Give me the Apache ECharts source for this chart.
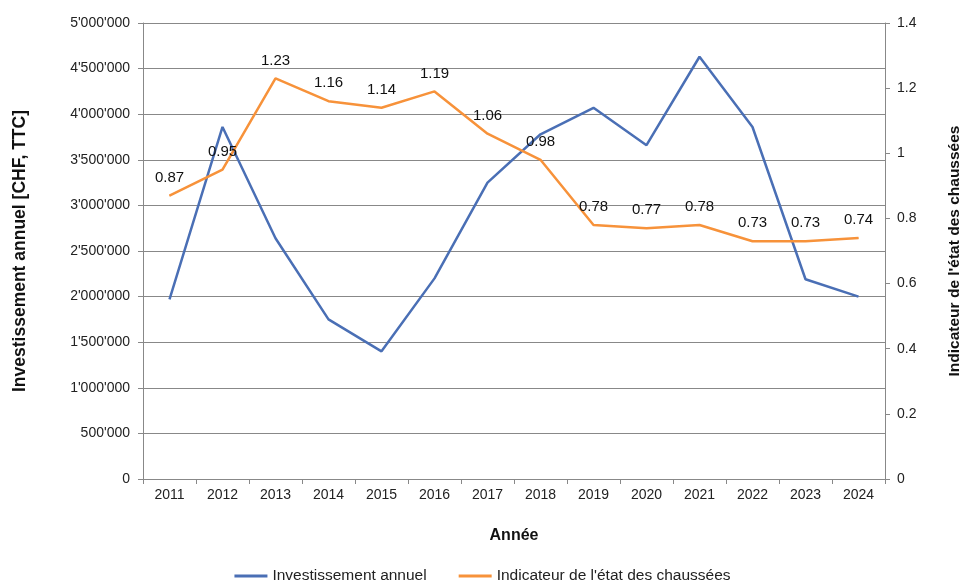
<!DOCTYPE html>
<html><head><meta charset="utf-8">
<script src="https://cdn.jsdelivr.net/npm/echarts@6/dist/echarts.min.js"></script>
<style>html,body{margin:0;padding:0;background:#fff}#c{width:965px;height:582px}</style>
</head><body><div id="c"></div>
<script>
const years = ['2011','2012','2013','2014','2015','2016','2017','2018','2019','2020','2021','2022','2023','2024'];
const investissement = [1970000,3860000,2640000,1750000,1400000,2200000,3250000,3780000,4070000,3660000,4630000,3860000,2190000,2000000];
const indicateur = [0.87,0.95,1.23,1.16,1.14,1.19,1.06,0.98,0.78,0.77,0.78,0.73,0.73,0.74];

function fmt(v){ return String(v).replace(/\B(?=(\d{3})+(?!\d))/g, "'"); }
const font = 'Liberation Sans, Arial, sans-serif';
const chart = echarts.init(document.getElementById('c'));
chart.setOption({
  animation:false,
  textStyle:{fontFamily:font},
  grid:{left:143,right:80,top:23,bottom:103,outerBoundsMode:'none',containLabel:false},
  legend:{top:563,left:'center',itemWidth:33,itemHeight:3,itemGap:32,icon:'rect',
    textStyle:{fontSize:15.5,color:'#222',fontFamily:font},
    data:['Investissement annuel','Indicateur de l\'état des chaussées']},
  xAxis:{type:'category',data:years,boundaryGap:true,
    name:'Année',nameLocation:'middle',nameGap:49,
    nameTextStyle:{fontWeight:'bold',fontSize:16,color:'#111'},
    axisLine:{lineStyle:{color:'#888'}},
    axisTick:{show:true,length:5,lineStyle:{color:'#888'}},
    axisLabel:{fontSize:14,color:'#222',margin:9}},
  yAxis:[
    {type:'value',min:0,max:5000000,interval:500000,
     name:'Investissement annuel [CHF, TTC]',nameLocation:'middle',nameGap:114,
     nameTextStyle:{fontWeight:'bold',fontSize:17.5,color:'#111'},
     axisLine:{show:true,lineStyle:{color:'#888'}},
     axisTick:{show:true,length:5,lineStyle:{color:'#888'}},
     axisLabel:{fontSize:14,color:'#222',formatter:fmt,margin:13},
     splitLine:{lineStyle:{color:'#888'}}},
    {type:'value',min:0,max:1.4,interval:0.2,
     name:'Indicateur de l\'état des chaussées',nameLocation:'middle',nameGap:62,nameRotate:90,
     nameTextStyle:{fontWeight:'bold',fontSize:15.5,color:'#111'},
     axisLine:{show:true,lineStyle:{color:'#888'}},
     axisTick:{show:true,length:5,lineStyle:{color:'#888'}},
     axisLabel:{fontSize:14,color:'#222',margin:12,formatter:v=>String(+v.toFixed(1))},
     splitLine:{show:false}}
  ],
  series:[
    {name:'Investissement annuel',type:'line',yAxisIndex:0,data:investissement,
     symbol:'none',lineStyle:{color:'#4a6fb5',width:2.5},itemStyle:{color:'#4a6fb5'}},
    {name:'Indicateur de l\'état des chaussées',type:'line',yAxisIndex:1,data:indicateur,
     symbol:'circle',symbolSize:1,showSymbol:true,
     lineStyle:{color:'#f7923a',width:2.5},itemStyle:{color:'#f7923a'},
     label:{show:true,position:'top',distance:10,fontSize:15,color:'#111',
       formatter:p=>p.value.toFixed(2)}}
  ]
});
</script></body></html>
